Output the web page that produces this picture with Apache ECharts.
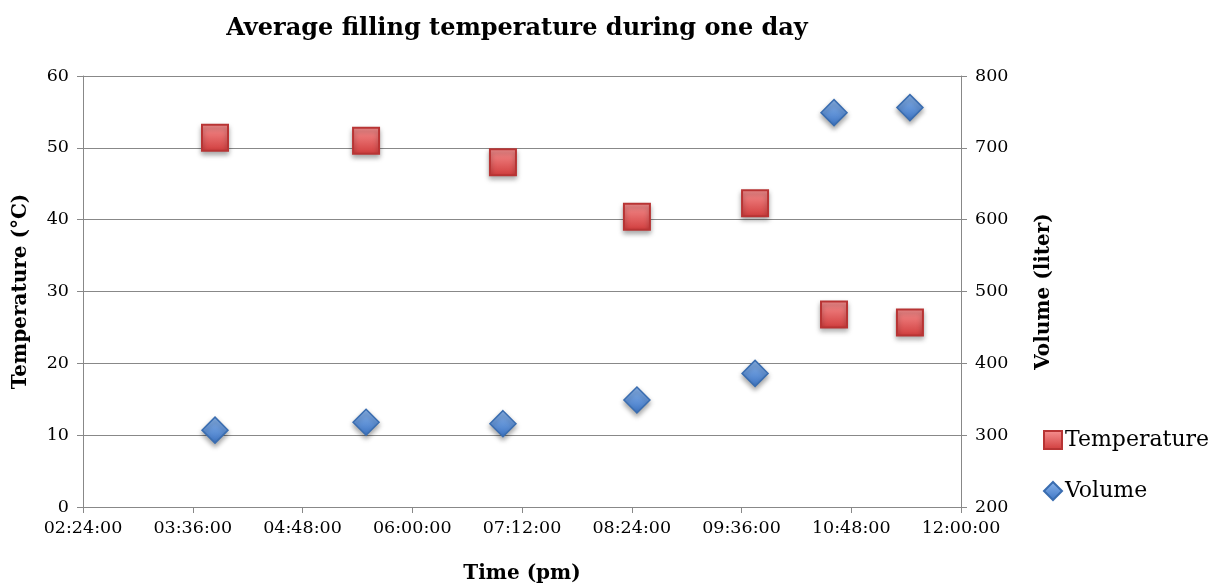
<!DOCTYPE html>
<html><head><meta charset="utf-8">
<script src="https://cdn.jsdelivr.net/npm/echarts@6/dist/echarts.min.js"></script>
<style>html,body{margin:0;padding:0;background:#fff}#c{width:1229px;height:587px}</style>
</head><body><div id="c"></div>
<script>
// times in minutes after 00:00 (pm clock)
const timeMinutes = [230.6, 329.7, 419.5, 507.4, 584.9, 636.7, 686.5];
const temperature = [51.4, 51.0, 48.0, 40.4, 42.3, 26.8, 25.7];
const volume = [307, 318, 316, 349, 386, 749, 756];
const xTickLabels = ['02:24:00','03:36:00','04:48:00','06:00:00','07:12:00','08:24:00','09:36:00','10:48:00','12:00:00'];

const FONT = '"DejaVu Serif", serif';
const chart = echarts.init(document.getElementById('c'), null, {renderer: 'canvas'});
const redGrad = new echarts.graphic.LinearGradient(0,0,0,1,[{offset:0,color:'#f79292'},{offset:1,color:'#d03c3c'}]);
const blueGrad = new echarts.graphic.LinearGradient(0,0,0,1,[{offset:0,color:'#8cb6ec'},{offset:1,color:'#3c74c4'}]);
chart.setOption({
  backgroundColor: '#fff',
  animation: false,
  title: {
    text: 'Average filling temperature during one day',
    left: 512, top: 12, textAlign: 'center',
    textStyle: {fontFamily: FONT, fontWeight: 'bold', fontSize: 24, color: '#000'}
  },
  legend: {
    orient: 'vertical', left: 1038, top: 424, itemGap: 29,
    itemWidth: 18, itemHeight: 18,
    textStyle: {fontFamily: FONT, fontSize: 22, color: '#000', padding: [0,0,0,-2]},
    data: [
      {name: 'Temperature', icon: 'rect'},
      {name: 'Volume', icon: 'diamond'}
    ]
  },
  grid: {left: 83, right: 268, top: 76, bottom: 80, outerBoundsMode: 'none', containLabel: false},
  xAxis: {
    type: 'value', min: 144, max: 720, interval: 72,
    name: 'Time (pm)', nameLocation: 'middle', nameGap: 57,
    nameTextStyle: {fontFamily: FONT, fontWeight: 'bold', fontSize: 20, color: '#000'},
    axisLine: {lineStyle: {color: '#888', width: 1}},
    axisTick: {show: true, length: 6, lineStyle: {color: '#888'}},
    splitLine: {show: false},
    axisLabel: {
      fontFamily: FONT, fontSize: 17.5, color: '#000', margin: 12,
      formatter: v => xTickLabels[Math.round((v - 144) / 72)]
    }
  },
  yAxis: [
    {
      type: 'value', min: 0, max: 60, interval: 10, position: 'left',
      name: 'Temperature (°C)', nameLocation: 'middle', nameGap: 52,
      nameTextStyle: {fontFamily: FONT, fontWeight: 'bold', fontSize: 20, color: '#000'},
      axisLine: {show: true, lineStyle: {color: '#888'}},
      axisTick: {show: true, length: 6, lineStyle: {color: '#888'}},
      splitLine: {show: true, lineStyle: {color: '#888', width: 1}},
      axisLabel: {fontFamily: FONT, fontSize: 17.5, color: '#000', margin: 14}
    },
    {
      type: 'value', min: 200, max: 800, interval: 100, position: 'right',
      name: 'Volume (liter)', nameLocation: 'middle', nameGap: 73, nameRotate: 90,
      nameTextStyle: {fontFamily: FONT, fontWeight: 'bold', fontSize: 20, color: '#000'},
      axisLine: {show: true, lineStyle: {color: '#888'}},
      axisTick: {show: true, length: 6, lineStyle: {color: '#888'}},
      splitLine: {show: false},
      axisLabel: {fontFamily: FONT, fontSize: 17.5, color: '#000', margin: 14}
    }
  ],
  series: [
    {
      name: 'Temperature', type: 'scatter', yAxisIndex: 0,
      symbol: 'rect', symbolSize: 26,
      itemStyle: {color: redGrad, borderColor: '#b83434', borderWidth: 2, opacity: 1,
        shadowColor: 'rgba(0,0,0,0.35)', shadowBlur: 5, shadowOffsetY: 3},
      data: timeMinutes.map((t, i) => [t, temperature[i]])
    },
    {
      name: 'Volume', type: 'scatter', yAxisIndex: 1,
      symbol: 'diamond', symbolSize: [26, 26],
      itemStyle: {color: blueGrad, borderColor: '#3a6db0', borderWidth: 1.5, opacity: 1,
        shadowColor: 'rgba(0,0,0,0.35)', shadowBlur: 5, shadowOffsetY: 3},
      data: timeMinutes.map((t, i) => [t, volume[i]])
    }
  ]
});
</script></body></html>
